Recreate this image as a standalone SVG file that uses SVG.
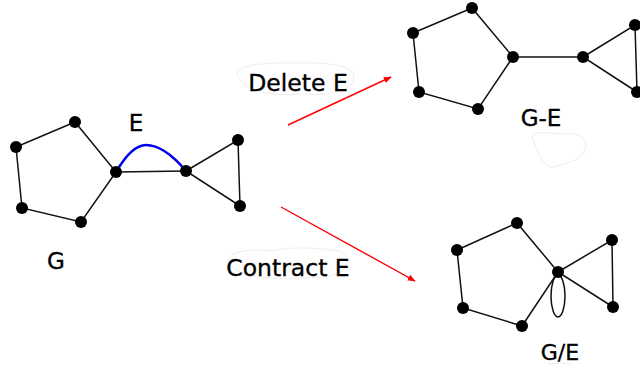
<svg xmlns="http://www.w3.org/2000/svg" width="640" height="372" viewBox="0 0 640 372">
  <style>
    .edge { stroke: #111; stroke-width: 1.5; fill: none; }
    .node { fill: #000; }
    .lbl { font-family: "DejaVu Sans", "Liberation Sans", sans-serif; fill: #000; stroke: #000; stroke-width: 0.35; }
    .op { stroke: #ff0000; stroke-width: 1.4; fill: none; }
    .halo { stroke: #eeeeee; stroke-width: 1; fill: none; }
  </style>
  <defs>
    <marker id="redHead" viewBox="0 0 10 10" refX="9" refY="5" markerWidth="8" markerHeight="8" markerUnits="userSpaceOnUse" orient="auto">
      <path d="M0,1 L10,5 L0,9 Z" fill="#ff0000"/>
    </marker>
    <g id="dot"><circle r="6" class="node"/></g>
  </defs>
  <rect width="640" height="372" fill="#fff"/>

  <!-- faint outlines behind labels -->
  <g id="halos">
    <path class="halo" d="M238,76 C232,66 260,62 300,63 C330,62 356,66 354,78 C352,92 330,96 300,94 C270,96 246,92 238,76 Z"/>
    <path class="halo" d="M228,262 C226,252 250,248 272,251 C290,246 320,248 340,251 C352,256 350,272 330,276 C290,280 240,282 228,262 Z"/>
    <path class="halo" d="M533,140 C528,130 548,133 565,134 C580,132 590,140 584,152 C580,160 570,162 560,165 C552,170 545,165 540,157 Z"/>
    <path class="halo" d="M548,364 C555,363 565,363 572,364"/>
  </g>

  <g id="connectors">
    <!-- operation arrows -->
    <line class="op" x1="288" y1="125" x2="391" y2="77" marker-end="url(#redHead)"/>
    <line class="op" x1="281" y1="207" x2="415" y2="281" marker-end="url(#redHead)"/>

    <!-- G -->
    <path class="edge" d="M75,122 L16,147 L22,208 L81,222 L116,172 Z"/>
    <line class="edge" x1="116" y1="172" x2="186" y2="171"/>
    <path class="edge" d="M186,171 L238,140 L240,206 Z"/>
    <path d="M116,172 C126,155 136,145 146,145 C158,145 170,152 186,171" stroke="#0000ee" stroke-width="2.6" fill="none"/>

    <!-- G-E -->
    <path class="edge" d="M472,8 L413,33 L419,92 L478,109 L513,57 Z"/>
    <line class="edge" x1="513" y1="57" x2="583" y2="57"/>
    <path class="edge" d="M583,57 L635,25 L637,92 Z"/>

    <!-- G/E -->
    <path class="edge" d="M517,223 L457,250 L463,308 L522,326 L558,272 Z"/>
    <path class="edge" d="M558,272 L612,240 L613,307 Z"/>
    <ellipse class="edge" cx="558" cy="296" rx="7" ry="21"/>
  </g>

  <g id="graph-G">
    <use href="#dot" x="75" y="122"/>
    <use href="#dot" x="16" y="147"/>
    <use href="#dot" x="22" y="208"/>
    <use href="#dot" x="81" y="222"/>
    <use href="#dot" x="116" y="172"/>
    <use href="#dot" x="186" y="171"/>
    <use href="#dot" x="238" y="140"/>
    <use href="#dot" x="240" y="206"/>
    <text class="lbl" x="136" y="131" font-size="23" text-anchor="middle">E</text>
    <text class="lbl" x="56" y="269" font-size="23" text-anchor="middle">G</text>
  </g>

  <g id="graph-G-minus-E">
    <use href="#dot" x="472" y="8"/>
    <use href="#dot" x="413" y="33"/>
    <use href="#dot" x="419" y="92"/>
    <use href="#dot" x="478" y="109"/>
    <use href="#dot" x="513" y="57"/>
    <use href="#dot" x="583" y="57"/>
    <use href="#dot" x="635" y="25"/>
    <use href="#dot" x="637" y="92"/>
    <text class="lbl" x="541" y="126" font-size="23" text-anchor="middle">G-E</text>
  </g>

  <g id="graph-G-over-E">
    <use href="#dot" x="517" y="223"/>
    <use href="#dot" x="457" y="250"/>
    <use href="#dot" x="463" y="308"/>
    <use href="#dot" x="522" y="326"/>
    <use href="#dot" x="558" y="272"/>
    <use href="#dot" x="612" y="240"/>
    <use href="#dot" x="613" y="307"/>
    <text class="lbl" x="560" y="360" font-size="22" text-anchor="middle">G/E</text>
  </g>

  <g id="op-labels">
    <text class="lbl" x="298" y="91" font-size="23.5" text-anchor="middle">Delete E</text>
    <text class="lbl" x="288" y="276" font-size="23.5" text-anchor="middle">Contract E</text>
  </g>
</svg>
